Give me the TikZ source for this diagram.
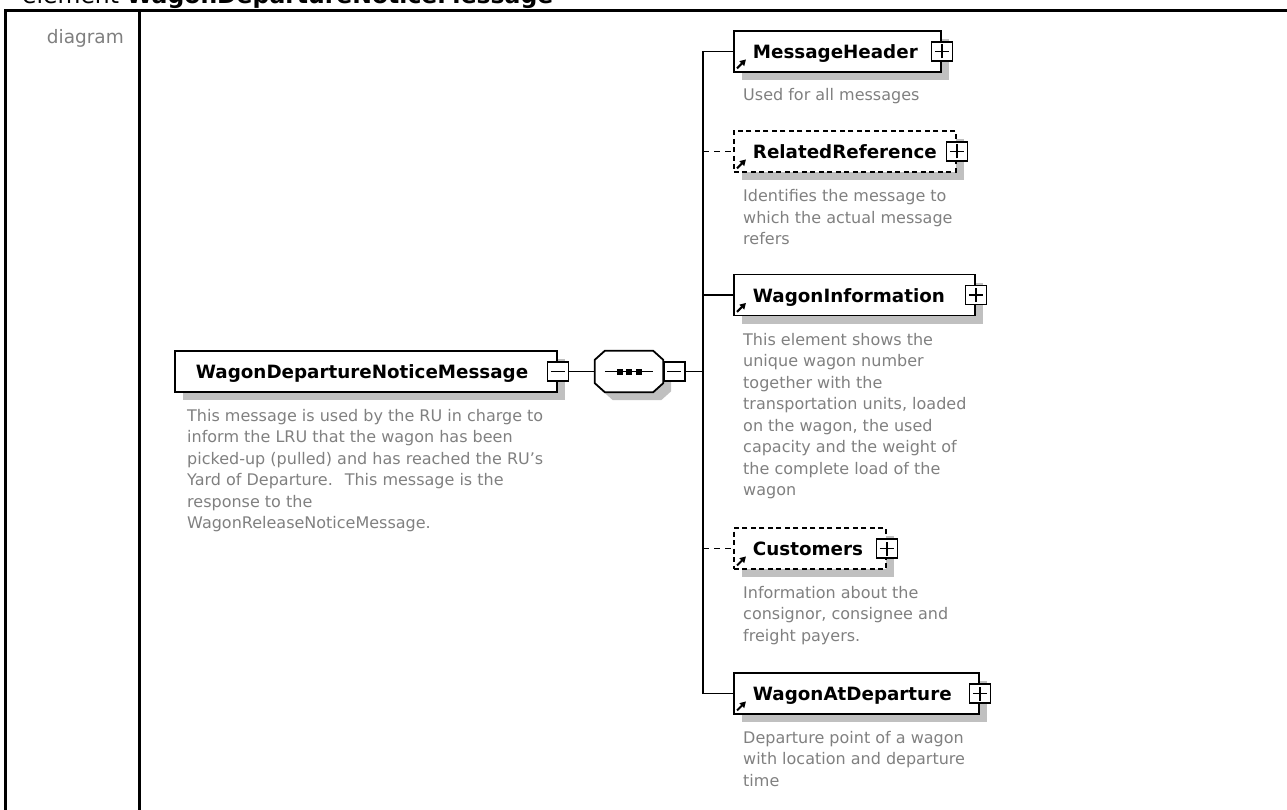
\documentclass[tikz,border=0pt]{standalone}
\usepackage{fontspec}
\setmainfont{DejaVu Sans}
\usetikzlibrary{shadows,arrows.meta,calc}
\definecolor{descgray}{HTML}{808080}
\definecolor{labelgray}{HTML}{7F7F7F}
\definecolor{shadowgray}{HTML}{C0C0C0}
\newcommand{\mylbl}[3]{\makebox[#1pt][l]{\hspace{#2pt}#3}}
\tikzset{
  elem/.style={draw=black, line width=1.8pt, fill=white, inner sep=0pt,
    minimum height=41pt, anchor=west, text height=14pt, text depth=0pt,
    font=\bfseries\fontsize{18.3}{22}\selectfont,
    drop shadow={shadow xshift=8pt, shadow yshift=-8pt, fill=shadowgray, opacity=1}},
  optelem/.style={elem, dash pattern=on 5pt off 3.5pt},
  desc/.style={anchor=base west, inner sep=0pt, align=left, text=descgray,
    font=\fontsize{16}{21.5}\selectfont},
  pmbase/.style={draw=black, line width=1.5pt, fill=white, minimum width=21pt,
    minimum height=19pt, inner sep=0pt},
  plusbox/.style={pmbase, path picture={
    \draw[line width=1.5pt] ([xshift=-7pt]path picture bounding box.center) -- ([xshift=7pt]path picture bounding box.center)
      ([yshift=-7pt]path picture bounding box.center) -- ([yshift=7pt]path picture bounding box.center);}},
  minusbox/.style={pmbase, path picture={
    \draw[line width=1.5pt] ([xshift=-7pt]path picture bounding box.center) -- ([xshift=7pt]path picture bounding box.center);}},
  conn/.style={draw=black, line width=1.8pt},
  optconn/.style={conn, dash pattern=on 6pt off 5pt},
  refarrow/.style={line width=2pt, -{Triangle[length=6pt,width=6.5pt]}},
  rule/.style={line width=2.6pt, line join=miter},
}
\begin{document}
\begin{tikzpicture}[x=1pt,y=-1pt]
\useasboundingbox (0,0) rectangle (1287,810);
% heading
\node[anchor=base west, inner sep=0pt, font=\fontsize{23.5}{28}\selectfont] (title) at (22,3.5)
  {element \textbf{WagonDepartureNoticeMessage}};
% table rules
\draw[rule] (5.3,810) -- (5.3,10.3) -- (1287,10.3);
\draw[rule] (139.7,10.3) -- (139.7,810);
\node[anchor=base east, inner sep=0pt, text=labelgray, font=\fontsize{18.5}{22}\selectfont] (diag) at (124,44) {diagram};

% main element
\node[elem] (main) at (174,371.5) {\mylbl{382}{21}{WagonDepartureNoticeMessage}};
\node[minusbox] (mainm) at (main.east) {};
% (base anchor of a multi-line node = baseline of its last line)
\node[desc] (maind) at (187,528.5) {This message is used by the RU in charge to\\inform the LRU that the wagon has been\\picked-up (pulled) and has reached the RU's\\Yard of Departure.~ This message is the\\response to the\\WagonReleaseNoticeMessage.};

% sequence compositor
\node[inner sep=0pt, minimum width=68pt, minimum height=41pt] (seq) at (629,371.5) {};
\fill[shadowgray, transform canvas={xshift=8pt,yshift=-8pt}]
  ([xshift=10pt]seq.north west) -- ([xshift=-10pt]seq.north east) -- ([yshift=-9pt]seq.north east)
  -- ([yshift=9pt]seq.south east) -- ([xshift=-10pt]seq.south east) -- ([xshift=10pt]seq.south west)
  -- ([yshift=9pt]seq.south west) -- ([yshift=-9pt]seq.north west) -- cycle;
\draw[conn, fill=white]
  ([xshift=10pt]seq.north west) -- ([xshift=-10pt]seq.north east) -- ([yshift=-9pt]seq.north east)
  -- ([yshift=9pt]seq.south east) -- ([xshift=-10pt]seq.south east) -- ([xshift=10pt]seq.south west)
  -- ([yshift=9pt]seq.south west) -- ([yshift=-9pt]seq.north west) -- cycle;
\draw[line width=1.5pt] ([xshift=10pt]seq.west) -- ([xshift=-10pt]seq.east);
\foreach \dx in {-9.5,0,9.5}
  \fill ([xshift=\dx pt-3pt,yshift=-3pt]seq.center) rectangle ([xshift=\dx pt+3pt,yshift=3pt]seq.center);
\node[minusbox, anchor=west] (seqm) at (seq.east) {};
\draw[conn] (mainm.east) -- (seq.west);
\coordinate (bus) at (703,371.5);
\draw[conn] (seqm.east) -- (bus);

% children
\node[elem] (mh) at (733,51.5) {\mylbl{207}{19}{MessageHeader}};
\node[optelem] (rr) at (733,151.5) {\mylbl{222}{19}{RelatedReference}};
\node[elem] (wi) at (733,295) {\mylbl{241}{19}{WagonInformation}};
\node[optelem] (cu) at (733,548.5) {\mylbl{152}{19}{Customers}};
\node[elem] (wad) at (733,693.5) {\mylbl{245}{19}{WagonAtDeparture}};

\foreach \n in {mh,rr,wi,cu,wad}{
  \node[plusbox] (\n p) at (\n.east) {};
  \draw[refarrow] ([xshift=4pt,yshift=4.5pt]\n.south west) -- ++(9,-9);
}

% connectors
\draw[conn, line join=miter] (mh.west) -| (bus) |- (wad.west);
\draw[conn] (bus |- wi.west) -- (wi.west);
\draw[optconn] (bus |- rr.west) -- (rr.west);
\draw[optconn] (bus |- cu.west) -- (cu.west);

% descriptions
\node[desc] (mhd) at (743,101) {Used for all messages};
\node[desc] (rrd) at (743,245) {Identifies the message to\\which the actual message\\refers};
\node[desc] (wid) at (743,495.5) {This element shows the\\unique wagon number\\together with the\\transportation units, loaded\\on the wagon, the used\\capacity and the weight of\\the complete load of the\\wagon};
\node[desc] (cud) at (743,641) {Information about the\\consignor, consignee and\\freight payers.};
\node[desc] (wadd) at (743,786) {Departure point of a wagon\\with location and departure\\time};
\end{tikzpicture}
\end{document}
